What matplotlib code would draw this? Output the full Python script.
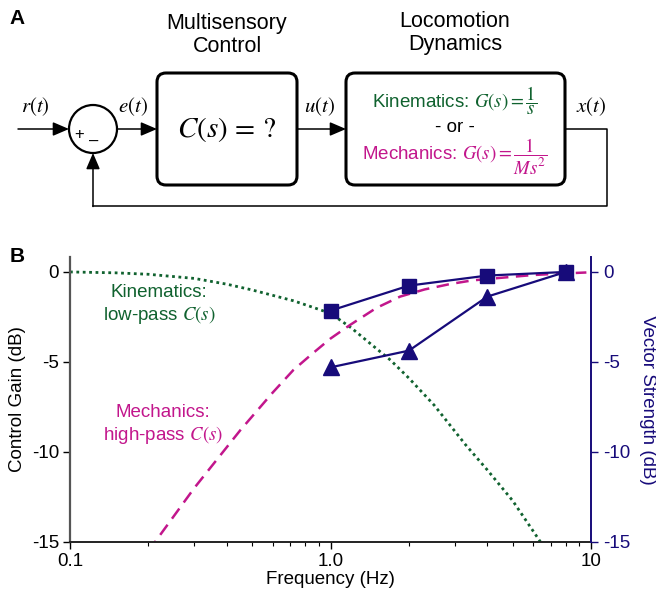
import matplotlib
matplotlib.use("Agg")
import matplotlib.pyplot as plt
from matplotlib.patches import FancyBboxPatch, Circle
from matplotlib.ticker import LogLocator, NullFormatter

plt.rcParams['font.family'] = ['Liberation Sans', 'DejaVu Sans']
plt.rcParams['mathtext.fontset'] = 'stix'
plt.rcParams['axes.unicode_minus'] = False

GREEN = '#10622f'
MAGENTA = '#c2168c'
NAVY = '#170b7a'
GRAY = '#555555'

# model control gain curves (dB)
kin_freq = [0.1, 0.15, 0.2, 0.3, 0.4, 0.5, 0.6, 0.72, 0.85, 1.0, 1.2, 1.4, 1.7, 2.0, 2.5, 3.3, 4.0, 5.0, 6.4, 7.0]
kin_gain = [0, -0.05, -0.13, -0.36, -0.68, -1.0, -1.3, -1.6, -1.95, -2.3, -3.1, -3.9, -4.9, -5.9, -7.4, -9.6, -11.0, -12.7, -15.0, -15.8]

mech_freq = [0.2, 0.212, 0.3, 0.45, 0.6, 0.72, 0.85, 1.0, 1.19, 1.5, 1.85, 2.3, 2.88, 3.5, 4.48, 6.0, 8.0, 9.6]
mech_gain = [-15.5, -15.0, -12.0, -8.8, -6.7, -5.45, -4.55, -3.7, -2.94, -2.0, -1.37, -0.97, -0.67, -0.47, -0.33, -0.17, -0.08, -0.03]

# measured vector strength (dB)
vs_freq = [1, 2, 4, 8]
vs_square = [-2.15, -0.76, -0.2, 0]
vs_triangle = [-5.3, -4.37, -1.37, 0]

y_ticks = [0, -5, -10, -15]
x_ticks = [0.1, 1, 10]
x_ticklabels = ['0.1', '1.0', '10']

fig = plt.figure(figsize=(6.56, 5.94), dpi=100)

# ---- panel A: block diagram, drawn in pixel coordinates ----
dg = fig.add_axes([0, 0, 1, 1])
dg.set_xlim(0, 656)
dg.set_ylim(594, 0)
dg.axis('off')

dg.text(17, 19, 'A', fontsize=15, fontweight='bold', ha='center', va='center')
dg.text(17, 257, 'B', fontsize=15, fontweight='bold', ha='center', va='center')

for (x0, x1) in [(157, 297), (346, 565)]:
    dg.add_patch(FancyBboxPatch((x0, 73), x1 - x0, 112,
                                boxstyle='round,pad=0,rounding_size=9',
                                fc='white', ec='black', lw=2.2))

dg.add_patch(Circle((93, 129), 24, fc='white', ec='black', lw=1.6))
dg.text(79, 134, '+', fontsize=12, ha='center', va='center')
dg.text(94, 141, '\u2013', fontsize=12, ha='center', va='center')

arrow = dict(arrowstyle='-|>,head_length=0.7,head_width=0.3', color='black',
             lw=1.1, shrinkA=0, shrinkB=0, mutation_scale=14)
dg.annotate('', xy=(69, 129), xytext=(18, 129), arrowprops=arrow)
dg.annotate('', xy=(157, 129), xytext=(117, 129), arrowprops=arrow)
dg.annotate('', xy=(346, 129), xytext=(297, 129), arrowprops=arrow)
dg.plot([565, 607, 607, 93], [129, 129, 206, 206], color='black', lw=1.1)
dg.annotate('', xy=(93, 153), xytext=(93, 206.5), arrowprops=arrow)

sig_kw = dict(fontsize=15, ha='center', va='center')
dg.text(35, 107, r'$r(t)$', **sig_kw)
dg.text(133, 107, r'$e(t)$', **sig_kw)
dg.text(320, 107, r'$u(t)$', **sig_kw)
dg.text(591, 107, r'$x(t)$', **sig_kw)

dg.text(227, 35, 'Multisensory\nControl', fontsize=15.5, ha='center', va='center', linespacing=1.1)
dg.text(455, 33, 'Locomotion\nDynamics', fontsize=15.5, ha='center', va='center', linespacing=1.1)
dg.text(227, 129, r'$C(s)\,=\,?$', fontsize=21, ha='center', va='center')

dg.text(455, 101, r'Kinematics: $G(s) = \dfrac{1}{s}$', fontsize=13.5, color=GREEN,
        ha='center', va='center')
dg.text(455, 128, '- or -', fontsize=13.5, ha='center', va='center')
dg.text(455, 157, r'Mechanics: $G(s) = \dfrac{1}{Ms^2}$', fontsize=13.5, color=MAGENTA,
        ha='center', va='center')

# ---- panel B: Bode-style gain plot ----
ax = fig.add_axes([70 / 656, 52 / 594, 521 / 656, 285 / 594])
ax.set_xscale('log')
ax.plot(kin_freq, kin_gain, color=GREEN, lw=2, linestyle=(0, (1, 1.3)))
ax.plot(mech_freq, mech_gain, color=MAGENTA, lw=1.8, linestyle=(0, (5, 3)))
ax.set_xlim(0.1, 10)
ax.set_ylim(-15, 0.83)
ax.set_xticks(x_ticks)
ax.set_xticklabels(x_ticklabels)
ax.xaxis.set_minor_locator(LogLocator(base=10, subs=range(2, 10)))
ax.xaxis.set_minor_formatter(NullFormatter())
ax.set_yticks(y_ticks)
ax.set_yticklabels([str(v) for v in y_ticks])
ax.tick_params(which='major', direction='out', length=5, width=1, labelsize=13.5, pad=3)
ax.tick_params(which='minor', direction='out', length=3, width=0.8)
ax.spines['top'].set_visible(False)
ax.spines['right'].set_visible(False)
ax.spines['left'].set_color(GRAY)
ax.spines['left'].set_linewidth(1.6)
ax.spines['bottom'].set_color('#222222')
ax.spines['bottom'].set_linewidth(1.4)
ax.set_xlabel('Frequency (Hz)', fontsize=13.5, labelpad=1)
ax.set_ylabel('Control Gain (dB)', fontsize=13.5, labelpad=4)

ax.text(0.22, -1.85, 'Kinematics:\nlow-pass $C(s)$', color=GREEN, fontsize=13.5,
        ha='center', va='center', linespacing=1.2)
ax.text(0.228, -8.5, 'Mechanics:\nhigh-pass $C(s)$', color=MAGENTA, fontsize=13.5,
        ha='center', va='center', linespacing=1.2)

ax2 = ax.twinx()
ax2.plot(vs_freq, vs_square, color=NAVY, lw=1.6, marker='s', markersize=9.5)
ax2.plot(vs_freq, vs_triangle, color=NAVY, lw=1.6, marker='^', markersize=11)
ax2.set_ylim(-15, 0.83)
ax2.set_yticks(y_ticks)
ax2.set_yticklabels([str(v) for v in y_ticks])
for side in ['top', 'left', 'bottom']:
    ax2.spines[side].set_visible(False)
ax2.spines['right'].set_color(NAVY)
ax2.spines['right'].set_linewidth(1.4)
ax2.tick_params(axis='y', direction='out', length=5, width=1, colors=NAVY, labelsize=13.5, pad=4)
ax2.set_ylabel('Vector Strength (dB)', fontsize=13.5, color=NAVY, rotation=270, labelpad=18)

fig.savefig('out.png', dpi=100)
